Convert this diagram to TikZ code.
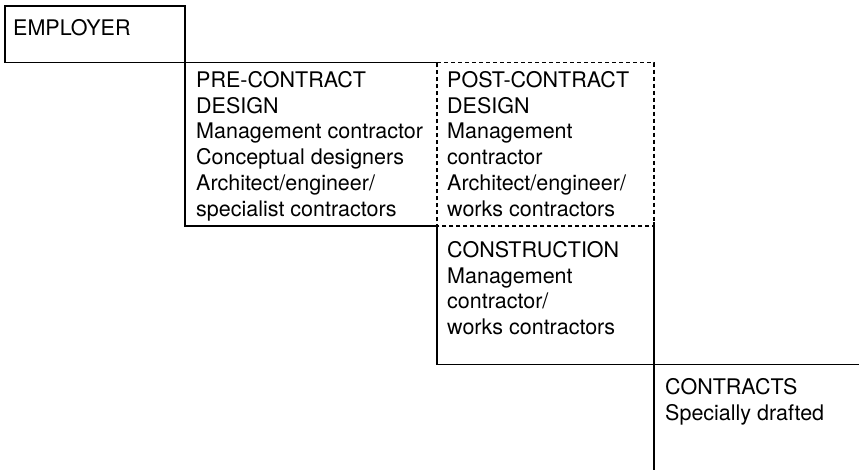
\documentclass[tikz,border=0pt]{standalone}
\usepackage{fontspec}
\setmainfont{TeX Gyre Heros}
\begin{document}
\begin{tikzpicture}[x=1pt,y=-1pt,
  solidline/.style={line width=1.2pt,black},
  dashline/.style={line width=1.1pt,black,dash pattern=on 4pt off 3pt},
  txt/.style={anchor=north west,inner sep=0pt,align=left,
    font=\fontsize{21.5}{25.8}\selectfont}]
\useasboundingbox (0,0) rectangle (859,472);
% corner coordinates
\coordinate (e1) at (5,6);
\coordinate (e2) at (185,6);
\coordinate (l0) at (4,62.7);
\coordinate (p1) at (185,62.7);
\coordinate (q1) at (437,62.7);
\coordinate (r1) at (654,62.7);
\coordinate (p2) at (185,226);
\coordinate (q2) at (437,226);
\coordinate (r2) at (654,226);
\coordinate (r2a) at (654,222);
\coordinate (q3) at (437,364.5);
\coordinate (r3) at (654,364.5);
\coordinate (s3) at (859,364.5);
\coordinate (r4) at (654,470);
% solid lines
\draw[solidline] (l0) -- (e1 |- l0) -- (e1) -- (e2) -- (p2) -- (q2);
\draw[solidline] (l0) -- (q1);
\draw[solidline] (q2) -- (q3) -- (s3);
\draw[solidline] (r2a) -- (r4);
% dashed box
\draw[dashline] (q1) -- (r1) -- (r2) -- (q2) -- cycle;
% texts
\node[txt] (employer) at (13,19) {EMPLOYER};
\node[txt] (pre) at (196,71) {PRE-CONTRACT\\DESIGN\\Management contractor\\Conceptual designers\\Architect/engineer/\\specialist contractors};
\node[txt] (post) at (447,71) {POST-CONTRACT\\DESIGN\\Management\\contractor\\Architect/engineer/\\works contractors};
\node[txt] (cons) at (447,241) {CONSTRUCTION\\Management\\contractor/\\works contractors};
\node[txt] (contr) at (665,378) {CONTRACTS\\Specially drafted};
\end{tikzpicture}
\end{document}
